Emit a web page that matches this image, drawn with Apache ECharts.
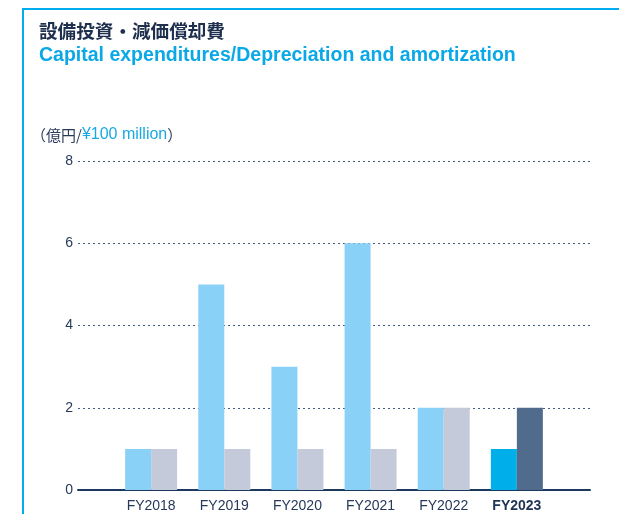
<!DOCTYPE html>
<html>
<head>
<meta charset="utf-8">
<style>
  html, body { margin: 0; padding: 0; background: #ffffff; }
  #chart { width: 619px; height: 514px; }
</style>
<script src="https://cdn.jsdelivr.net/npm/echarts@6/dist/echarts.min.js"></script>
</head>
<body>
<div id="chart"></div>
<script>
// Fiscal years shown on the category axis
const categories = ['FY2018', 'FY2019', 'FY2020', 'FY2021', 'FY2022', 'FY2023'];
// Capital expenditures (¥100 million)
const capex = [1, 5, 3, 6, 2, 1];
// Depreciation and amortization (¥100 million)
const depreciation = [1, 1, 1, 1, 2, 2];
// Value axis ticks
const yTicks = [0, 2, 4, 6, 8];

const latest = categories.length - 1;
const navy = '#26395a';
const jpFont = '"Noto Sans CJK JP", "Liberation Sans", sans-serif';
const enFont = '"Liberation Sans", Arial, sans-serif';

// Empty slots at each end leave room between the axis ends and the first / last pair of bars
const axisData = [''].concat(categories, ['']);
const pad = arr => [null].concat(arr, [null]);

const capexData = pad(capex.map((v, i) => ({
  value: v,
  itemStyle: { color: i === latest ? '#00aeea' : '#89d1f6' }
})));
const depData = pad(depreciation.map((v, i) => ({
  value: v,
  itemStyle: { color: i === latest ? '#516b8d' : '#c4cad9' }
})));

const chart = echarts.init(document.getElementById('chart'), null, { renderer: 'canvas' });

chart.setOption({
  animation: false,
  backgroundColor: '#ffffff',
  graphic: [
    // frame accent: top and left rules
    { type: 'rect', shape: { x: 22, y: 8, width: 597, height: 2 }, style: { fill: '#00aeef' } },
    { type: 'rect', shape: { x: 22, y: 8, width: 2, height: 506 }, style: { fill: '#00aeef' } },
    {
      type: 'text', left: 39, top: 22,
      style: { text: '設備投資・減価償却費', font: 'bold 18.6px ' + jpFont, fill: '#1f2f4e' }
    },
    {
      type: 'text', left: 39, top: 46,
      style: { text: 'Capital expenditures/Depreciation and amortization', font: 'bold 19.5px ' + enFont, fill: '#0aa8e6' }
    },
    {
      type: 'text', left: 31, top: 127,
      style: {
        text: '{a|（億円/}{b|¥100 million}{a|）}',
        rich: {
          a: { font: '15px ' + jpFont, fill: '#2a3b59' },
          b: { font: '16px ' + enFont, fill: '#18a9e4' }
        }
      }
    }
  ],
  grid: { left: 78, right: 29, top: 161, bottom: 24, containLabel: false },
  xAxis: {
    type: 'category',
    data: axisData,
    boundaryGap: false,
    axisLine: { show: true, lineStyle: { color: '#1b3a5e', width: 2 } },
    axisTick: { show: false },
    axisLabel: {
      margin: 9,
      interval: 0,
      formatter: (v) => (v === categories[latest] ? '{b|' + v + '}' : v),
      color: navy,
      fontFamily: enFont,
      fontSize: 14,
      rich: { b: { fontWeight: 'bold', color: '#1f3354', fontFamily: enFont, fontSize: 14 } }
    },
    splitLine: { show: false }
  },
  yAxis: {
    type: 'value',
    min: yTicks[0],
    max: yTicks[yTicks.length - 1],
    interval: yTicks[1] - yTicks[0],
    axisLine: { show: false },
    axisTick: { show: false },
    axisLabel: { margin: 5, color: navy, fontFamily: enFont, fontSize: 14 },
    splitLine: { show: true, lineStyle: { color: '#3e5b80', width: 1, type: [2, 3] } }
  },
  series: [
    { name: 'Capital expenditures', type: 'bar', data: capexData, barWidth: 26, barGap: '0%' },
    { name: 'Depreciation and amortization', type: 'bar', data: depData, barWidth: 26, barGap: '0%' }
  ]
});
</script>
</body>
</html>
